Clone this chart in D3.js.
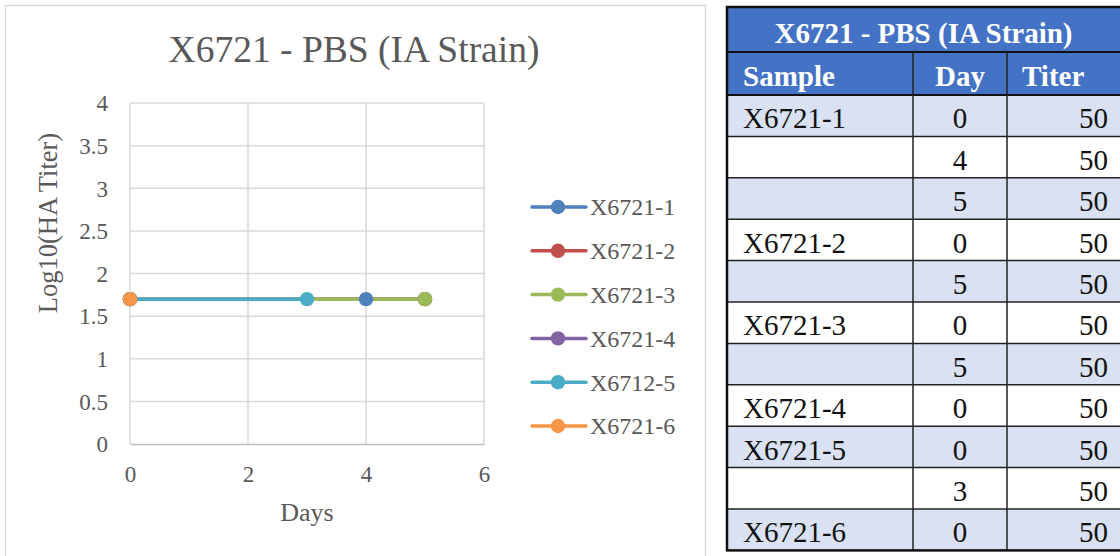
<!DOCTYPE html>
<html>
<head>
<meta charset="utf-8">
<script src="https://cdn.jsdelivr.net/npm/d3@7"></script>
<style>
  html, body { margin: 0; padding: 0; background: #fff; }
  svg { display: block; }
</style>
</head>
<body>
<svg id="chart" width="1120" height="556"></svg>
<script>
// chart series
const seriesNames = ["X6721-1", "X6721-2", "X6721-3", "X6721-4", "X6712-5", "X6721-6"];
const seriesDays = [[0, 4, 5], [0, 5], [0, 5], [0], [0, 3], [0]];
const seriesTiters = [[50, 50, 50], [50, 50], [50, 50], [50], [50, 50], [50]];
const seriesColors = ["#4f81bd", "#c0504d", "#9bbb59", "#8064a2", "#4bacc6", "#f79646"];

const xTicks = [0, 2, 4, 6];
const yTicks = [0, 0.5, 1, 1.5, 2, 2.5, 3, 3.5, 4];

// table
const tableTitle = "X6721 - PBS (IA Strain)";
const tableHeaders = ["Sample", "Day", "Titer"];
const tableSamples = ["X6721-1", "", "", "X6721-2", "", "X6721-3", "", "X6721-4", "X6721-5", "", "X6721-6"];
const tableDays = [0, 4, 5, 0, 5, 0, 5, 0, 0, 3, 0];
const tableTiters = [50, 50, 50, 50, 50, 50, 50, 50, 50, 50, 50];

const svg = d3.select("#chart");
const serif = "'Liberation Serif', 'Times New Roman', serif";
const grey = "#595959";

// chart frame
svg.append("rect")
  .attr("x", 5.5).attr("y", 5.5)
  .attr("width", 700).attr("height", 560)
  .attr("fill", "#fff")
  .attr("stroke", "#d9d9d9")
  .attr("stroke-width", 1.5);

const x = d3.scaleLinear().domain([0, 6]).range([130, 484]);
const y = d3.scaleLinear().domain([0, 4]).range([444, 103]);
const color = d3.scaleOrdinal().domain(seriesNames).range(seriesColors);

// title
svg.append("text")
  .attr("x", 354).attr("y", 62)
  .attr("text-anchor", "middle")
  .style("font-family", serif).style("font-size", "37.5px")
  .attr("fill", grey)
  .text("X6721 - PBS (IA Strain)");

// gridlines
const grid = svg.append("g");
grid.selectAll(".hgrid")
  .data(yTicks.filter(d => d > 0))
  .enter().append("line")
  .attr("x1", x(0)).attr("x2", x(6))
  .attr("y1", d => y(d)).attr("y2", d => y(d))
  .attr("stroke", "#d9d9d9").attr("stroke-width", 1.5);
grid.selectAll(".vgrid")
  .data(xTicks)
  .enter().append("line")
  .attr("x1", d => x(d)).attr("x2", d => x(d))
  .attr("y1", y(0)).attr("y2", y(4))
  .attr("stroke", "#d9d9d9").attr("stroke-width", 1.5);

// x axis
const xAxis = svg.append("g")
  .attr("transform", "translate(0," + y(0) + ")")
  .call(d3.axisBottom(x).tickValues(xTicks).tickSize(0).tickFormat(d3.format("d")));
xAxis.select(".domain").attr("stroke", "#bfbfbf").attr("stroke-width", 1.5);
xAxis.selectAll("text")
  .attr("y", 38).attr("dy", 0)
  .style("font-family", serif).style("font-size", "23px")
  .attr("fill", grey);

// y axis
const yAxis = svg.append("g")
  .attr("transform", "translate(" + x(0) + ",0)")
  .call(d3.axisLeft(y).tickValues(yTicks).tickSize(0).tickFormat(d => d));
yAxis.select(".domain").remove();
yAxis.selectAll("text")
  .attr("x", -22).attr("dy", "0.34em")
  .style("font-family", serif).style("font-size", "23px")
  .attr("fill", grey);

// axis titles
svg.append("text")
  .attr("x", 307).attr("y", 521)
  .attr("text-anchor", "middle")
  .style("font-family", serif).style("font-size", "26px")
  .attr("fill", grey)
  .text("Days");
svg.append("text")
  .attr("transform", "translate(57,223) rotate(-90)")
  .attr("text-anchor", "middle")
  .style("font-family", serif).style("font-size", "26.5px")
  .attr("fill", grey)
  .text("Log10(HA Titer)");

// series
const series = seriesNames.map((name, i) => ({
  name: name,
  points: seriesDays[i].map((d, j) => ({day: d, value: Math.log10(seriesTiters[i][j])}))
}));

const line = d3.line().x(d => x(d.day)).y(d => y(d.value));

svg.append("g").selectAll("path")
  .data(series)
  .enter().append("path")
  .attr("d", d => line(d.points))
  .attr("fill", "none")
  .attr("stroke", d => color(d.name))
  .attr("stroke-width", 3.5)
  .attr("stroke-linejoin", "round");

const markerGroups = svg.append("g").selectAll("g")
  .data(series)
  .enter().append("g");
markerGroups.selectAll("circle")
  .data(d => d.points.map(p => ({name: d.name, day: p.day, value: p.value})))
  .enter().append("circle")
  .attr("cx", d => x(d.day))
  .attr("cy", d => y(d.value))
  .attr("r", 7.2)
  .attr("fill", d => color(d.name));

// legend
const legend = svg.append("g").selectAll("g")
  .data(seriesNames)
  .enter().append("g")
  .attr("transform", (d, i) => "translate(532," + (207 + i * 43.8) + ")");
legend.append("line")
  .attr("x1", 0).attr("x2", 54)
  .attr("stroke", d => color(d))
  .attr("stroke-width", 3.5)
  .attr("stroke-linecap", "round");
legend.append("circle")
  .attr("cx", 26).attr("r", 7.2)
  .attr("fill", d => color(d));
legend.append("text")
  .attr("x", 58).attr("dy", "0.35em")
  .style("font-family", serif).style("font-size", "24px")
  .attr("fill", grey)
  .text(d => d);

// table
const tLeft = 727, tRight = 1124;
const colEdges = [727, 913, 1007, 1124];
const titleTop = 7, headTop = 52, bodyTop = 95, rowH = 41.4;
const tbl = svg.append("g");

tbl.append("rect")
  .attr("x", tLeft).attr("y", titleTop)
  .attr("width", tRight - tLeft).attr("height", bodyTop - titleTop)
  .attr("fill", "#4472c4");

const rows = tableSamples.map((s, i) => ({sample: s, day: tableDays[i], titer: tableTiters[i]}));

tbl.selectAll(".rowbg")
  .data(rows)
  .enter().append("rect")
  .attr("x", tLeft)
  .attr("y", (d, i) => bodyTop + i * rowH)
  .attr("width", tRight - tLeft)
  .attr("height", rowH)
  .attr("fill", (d, i) => i % 2 === 0 ? "#d9e1f2" : "#ffffff");

// horizontal rules
tbl.selectAll(".hrule")
  .data(d3.range(rows.length))
  .enter().append("line")
  .attr("x1", tLeft).attr("x2", tRight)
  .attr("y1", d => bodyTop + d * rowH).attr("y2", d => bodyTop + d * rowH)
  .attr("stroke", "#222").attr("stroke-width", 1.5);
tbl.append("line")
  .attr("x1", tLeft).attr("x2", tRight)
  .attr("y1", headTop).attr("y2", headTop)
  .attr("stroke", "#111").attr("stroke-width", 2);
tbl.append("line")
  .attr("x1", tLeft).attr("x2", tRight)
  .attr("y1", bodyTop).attr("y2", bodyTop)
  .attr("stroke", "#111").attr("stroke-width", 2);

// vertical rules
tbl.selectAll(".vrule")
  .data(colEdges.slice(1, 3))
  .enter().append("line")
  .attr("x1", d => d).attr("x2", d => d)
  .attr("y1", headTop).attr("y2", bodyTop + rows.length * rowH)
  .attr("stroke", "#222").attr("stroke-width", 1.5);

// outer border
tbl.append("rect")
  .attr("x", tLeft).attr("y", titleTop)
  .attr("width", tRight - tLeft)
  .attr("height", bodyTop + rows.length * rowH - titleTop)
  .attr("fill", "none")
  .attr("stroke", "#111").attr("stroke-width", 2.5);

// table text
tbl.append("text")
  .attr("x", (tLeft + tRight) / 2 - 2).attr("y", 43)
  .attr("text-anchor", "middle")
  .style("font-family", serif).style("font-size", "29px").style("font-weight", "bold")
  .attr("fill", "#fff")
  .text(tableTitle);

const headX = [743, 960, 1022];
const headAnchor = ["start", "middle", "start"];
tbl.selectAll(".head")
  .data(tableHeaders)
  .enter().append("text")
  .attr("x", (d, i) => headX[i]).attr("y", 86)
  .attr("text-anchor", (d, i) => headAnchor[i])
  .style("font-family", serif).style("font-size", "29px").style("font-weight", "bold")
  .attr("fill", "#fff")
  .text(d => d);

const rowText = tbl.selectAll(".rowtext")
  .data(rows)
  .enter().append("g")
  .attr("transform", (d, i) => "translate(0," + (bodyTop + (i + 1) * rowH - 8) + ")");
rowText.append("text")
  .attr("x", 743)
  .style("font-family", serif).style("font-size", "29px")
  .attr("fill", "#111")
  .text(d => d.sample);
rowText.append("text")
  .attr("x", 960).attr("text-anchor", "middle")
  .style("font-family", serif).style("font-size", "29px")
  .attr("fill", "#111")
  .text(d => d.day);
rowText.append("text")
  .attr("x", 1108).attr("text-anchor", "end")
  .style("font-family", serif).style("font-size", "29px")
  .attr("fill", "#111")
  .text(d => d.titer);
</script>
</body>
</html>
